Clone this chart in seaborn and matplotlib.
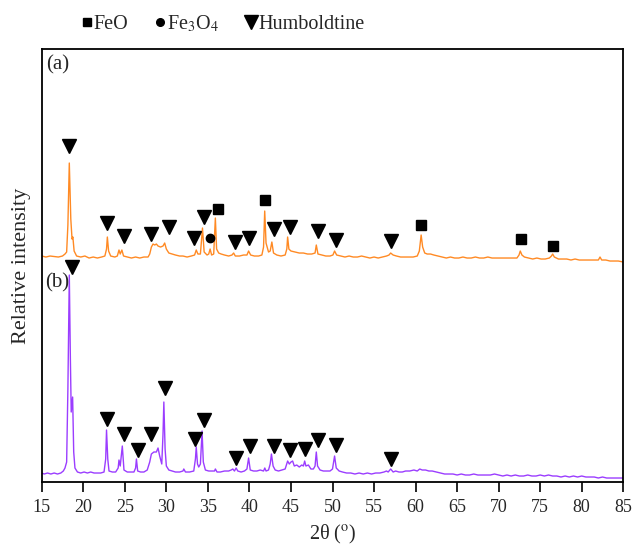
import numpy as np
import pandas as pd
import matplotlib
matplotlib.use("Agg")
import matplotlib.pyplot as plt
from matplotlib.lines import Line2D
import seaborn as sns

# ---------------- data ----------------
# series (a): 2theta and intensity above its own baseline
two_theta_a = [15.0, 15.5, 16.0, 16.5, 17.0, 17.5, 17.8, 18.0, 18.15, 18.32, 18.5, 18.65, 18.75, 18.9, 19.2,
               19.7, 20.2, 20.7, 21.2, 21.7, 22.2, 22.6, 22.8, 22.9, 23.05, 23.3, 23.8, 24.1, 24.3, 24.45,
               24.65, 24.85, 25.3, 25.8, 26.3, 26.8, 27.3, 27.8, 28.0, 28.2, 28.4, 28.6, 28.8, 29.0, 29.3,
               29.6, 29.8, 30.0, 30.3, 30.7, 31.1, 31.6, 32.0, 32.5, 33.0, 33.4, 33.6, 33.8, 34.1, 34.35,
               34.55, 34.9, 35.1, 35.27, 35.45, 35.7, 35.9, 36.05, 36.3, 36.6, 37.0, 37.5, 37.9, 38.1, 38.3,
               38.8, 39.3, 39.7, 39.9, 40.15, 40.6, 41.1, 41.5, 41.7, 41.84, 42.0, 42.3, 42.5, 42.7, 42.9,
               43.3, 43.8, 44.3, 44.5, 44.6, 44.75, 45.0, 45.5, 46.0, 46.5, 47.0, 47.5, 47.9, 48.05, 48.25,
               48.7, 49.2, 49.7, 50.05, 50.25, 50.5, 51.0, 51.5, 52.0, 52.5, 53.0, 53.5, 54.0, 54.5, 55.0,
               55.5, 56.0, 56.5, 56.8, 57.0, 57.3, 57.7, 58.2, 58.7, 59.2, 59.7, 60.2, 60.45, 60.67, 60.85,
               61.1, 61.4, 61.8, 62.2, 62.7, 63.2, 63.7, 64.2, 64.7, 65.2, 65.7, 66.2, 66.7, 67.2, 67.7,
               68.2, 68.7, 69.2, 69.7, 70.2, 70.7, 71.2, 71.7, 72.2, 72.45, 72.6, 72.8, 73.1, 73.6, 74.1,
               74.6, 75.1, 75.6, 76.1, 76.35, 76.5, 76.7, 77.2, 77.7, 78.2, 78.7, 79.2, 79.7, 80.2, 80.7,
               81.2, 81.7, 82.0, 82.2, 82.4, 82.9, 83.4, 83.9, 84.4, 85.0]
intensity_a = [1, 0, 1, 0.5, 0, 1, 3, 5, 32, 94, 38, 18, 20, 6, 1,
               0, 1, -1, 0, -1, 0, 1, 8, 20, 6, 1, 0, 1, 7, 3,
               7, 1, 0, -1, 0, -1, 0, 0, 3, 10, 13, 12, 13, 11, 10,
               11, 14, 8, 4, 3, 2, 1, 1, 0, 1, 2, 7, 3, 3, 29,
               5, 2, 3, 8, 2, 3, 39, 8, 4, 3, 2, 1, 2, 4, 1,
               1, 2, 2, 6, 2, 1, 1, 2, 10, 46, 14, 5, 6, 15, 4,
               2, 1, 2, 8, 20, 8, 6, 5, 4, 4, 3, 3, 4, 12, 3,
               2, 1, 1, 2, 6, 2, 1, 0, 1, 0, 0, 1, 0, -1, 0,
               -1, 0, 1, 2, 4, 2, 1, 0, 0, 0, 0, 1, 6, 22, 10,
               4, 3, 3, 2, 1, 0, -1, 0, -1, -1, 0, -1, -1, 0, -1,
               -1, 0, -1, -1, -1, -1, -1, -1, -1, 2, 6, 2, 0, -1, -2,
               -1, -2, -2, -1, 1, 3, 0, -2, -2, -2, -3, -2, -3, -3, -3,
               -3, -3, -3, 0, -3, -3, -4, -4, -4, -5]

# series (b)
two_theta_b = [15.0, 15.3, 15.7, 16.1, 16.5, 16.9, 17.3, 17.6, 17.8, 18.0, 18.15, 18.32, 18.45, 18.55, 18.72,
               18.85, 19.0, 19.3, 19.7, 20.1, 20.5, 20.9, 21.3, 21.7, 22.1, 22.5, 22.7, 22.8, 22.95, 23.1,
               23.5, 23.9, 24.2, 24.3, 24.45, 24.7, 24.9, 25.3, 25.7, 26.1, 26.3, 26.4, 26.55, 26.9, 27.3,
               27.7, 28.0, 28.2, 28.5, 28.8, 29.0, 29.2, 29.45, 29.6, 29.7, 29.85, 30.0, 30.3, 30.7, 31.1,
               31.6, 32.0, 32.1, 32.3, 32.8, 33.3, 33.5, 33.6, 33.75, 33.9, 34.1, 34.3, 34.45, 34.7, 35.1,
               35.5, 35.8, 35.9, 36.1, 36.5, 37.0, 37.5, 37.8, 38.0, 38.2, 38.4, 38.6, 39.0, 39.4, 39.7,
               39.9, 40.1, 40.5, 40.9, 41.3, 41.7, 41.85, 42.0, 42.3, 42.5, 42.65, 42.85, 43.1, 43.5, 43.9,
               44.3, 44.6, 44.8, 45.0, 45.2, 45.4, 45.7, 46.0, 46.3, 46.5, 46.65, 46.8, 47.1, 47.4, 47.7,
               47.9, 48.05, 48.2, 48.5, 48.9, 49.3, 49.7, 50.0, 50.25, 50.45, 50.8, 51.2, 51.7, 52.2, 52.7,
               53.2, 53.7, 54.2, 54.7, 55.2, 55.7, 56.2, 56.5, 56.7, 57.0, 57.3, 57.6, 58.0, 58.4, 58.8,
               59.3, 59.8, 60.2, 60.5, 60.8, 61.2, 61.6, 62.0, 62.5, 63.0, 63.5, 64.0, 64.5, 65.0, 65.5,
               66.0, 66.5, 67.0, 67.5, 68.0, 68.5, 69.0, 69.5, 70.0, 70.5, 71.0, 71.5, 72.0, 72.5, 73.0,
               73.5, 74.0, 74.5, 75.0, 75.5, 76.0, 76.5, 77.0, 77.5, 78.0, 78.5, 79.0, 79.5, 80.0, 80.5,
               81.0, 81.5, 82.0, 82.5, 83.0, 83.5, 84.0, 84.5, 85.0]
intensity_b = [1, 0, 1, 0, 1, 0, 1, 3, 6, 12, 85, 199, 115, 62, 77,
               22, 6, 2, 1, 2, 1, 2, 1, 1, 1, 2, 15, 44, 15, 3,
               2, 2, 6, 14, 8, 28, 4, 2, 2, 2, 6, 15, 3, 2, 2,
               4, 12, 20, 22, 22, 26, 18, 10, 40, 72, 25, 8, 4, 3, 2,
               2, 3, 5, 2, 2, 3, 15, 27, 10, 7, 10, 43, 12, 4, 3,
               3, 3, 5, 2, 2, 3, 3, 4, 5, 3, 6, 3, 2, 3, 5,
               16, 4, 3, 3, 4, 3, 6, 3, 4, 10, 20, 8, 4, 3, 4,
               5, 13, 10, 12, 13, 8, 9, 7, 9, 8, 13, 8, 9, 5, 5,
               8, 22, 8, 4, 3, 3, 3, 5, 18, 6, 3, 2, 1, 1, 0,
               1, 0, 1, 0, 1, 1, 2, 3, 2, 5, 2, 3, 2, 2, 3,
               3, 4, 3, 5, 4, 4, 3, 3, 2, 1, 0, 0, 0, -1, 0,
               -1, -1, 0, -1, -1, -1, -1, 0, -1, -2, -1, -2, -1, -2, -2,
               -1, -2, -2, -1, -2, -1, -2, -2, -3, -2, -3, -2, -3, -2, -3,
               -3, -3, -4, -3, -4, -4, -4, -4, -4]

# phase markers: (2theta, height on the plot scale)
hum_a_x = [18.32, 22.9, 24.9, 28.2, 30.3, 33.35, 34.5, 38.3, 40.0, 42.95, 44.9, 48.25, 50.4, 57.05]
hum_a_y = [336, 259, 246, 248, 255, 244, 265, 240, 244, 253, 255, 251, 242, 241]
feo_a_x = [36.2, 41.84, 60.7, 72.7, 76.6]
feo_a_y = [273, 282, 257, 243, 236]
fe3o4_a_x = [35.27]
fe3o4_a_y = [244]
hum_b_x = [18.7, 22.9, 24.9, 26.6, 28.2, 29.8, 33.4, 34.5, 38.35, 40.1, 42.9, 44.9, 46.75, 48.25, 50.4, 57.05]
hum_b_y = [215, 63, 48, 32, 48, 94, 43, 62, 24, 36, 36, 32, 33, 42, 37, 23]

legend_labels = ["FeO", "Fe$_3$O$_4$", "Humboldtine"]
x_ticks = [15, 20, 25, 30, 35, 40, 45, 50, 55, 60, 65, 70, 75, 80, 85]

# ---------------- style ----------------
sns.set_style("white")
plt.rcParams["font.family"] = ["Liberation Serif", "DejaVu Serif"]
plt.rcParams["mathtext.fontset"] = "stix"

offset_a = 225
offset_b = 8
color_a = "#ff8a24"
color_b = "#9b3dff"

df_a = pd.DataFrame({"theta": two_theta_a, "I": np.array(intensity_a, float) + offset_a})
df_b = pd.DataFrame({"theta": two_theta_b, "I": np.array(intensity_b, float) + offset_b})

fig = plt.figure(figsize=(6.34, 5.46), dpi=100)
ax = fig.add_axes([0.0658, 0.1172, 0.9173, 0.7930])

sns.lineplot(data=df_a, x="theta", y="I", ax=ax, color=color_a, lw=1.0, estimator=None, sort=False)
sns.lineplot(data=df_b, x="theta", y="I", ax=ax, color=color_b, lw=1.0, estimator=None, sort=False)

ax.plot(hum_a_x, hum_a_y, ls="none", marker="v", ms=10, color="black")
ax.plot(hum_b_x, hum_b_y, ls="none", marker="v", ms=10, color="black")
ax.plot(feo_a_x, feo_a_y, ls="none", marker="s", ms=7, color="black")
ax.plot(fe3o4_a_x, fe3o4_a_y, ls="none", marker="o", ms=6, color="black")

ax.set_xlim(15, 85)
ax.set_ylim(0, 433)
ax.set_xticks(x_ticks)
ax.set_yticks([])
ax.tick_params(axis="x", direction="out", length=7, width=1.2, labelsize=13, pad=5, bottom=True, color="black")
for s in ax.spines.values():
    s.set_color("black")
    s.set_linewidth(1.3)

ax.set_xlabel("2θ ($^{\\rm o}$)", fontsize=14.5, labelpad=5)
ax.set_ylabel("Relative intensity", fontsize=16, labelpad=8)

ax.text(0.008, 0.963, "(a)", transform=ax.transAxes, fontsize=15, va="center", ha="left")
ax.text(0.005, 0.460, "(b)", transform=ax.transAxes, fontsize=15, va="center", ha="left")

handles = [Line2D([], [], ls="none", marker="s", ms=5.5, color="black"),
           Line2D([], [], ls="none", marker="o", ms=5.5, color="black"),
           Line2D([], [], ls="none", marker="v", ms=9.5, color="black")]
ax.legend(handles, legend_labels, loc="center left", bbox_to_anchor=(0.069, 1.058), ncol=3,
          frameon=False, handlelength=0.5, handletextpad=0.08, columnspacing=1.35,
          borderpad=0, borderaxespad=0, fontsize=14.5)

fig.savefig("out.png", dpi=100)
